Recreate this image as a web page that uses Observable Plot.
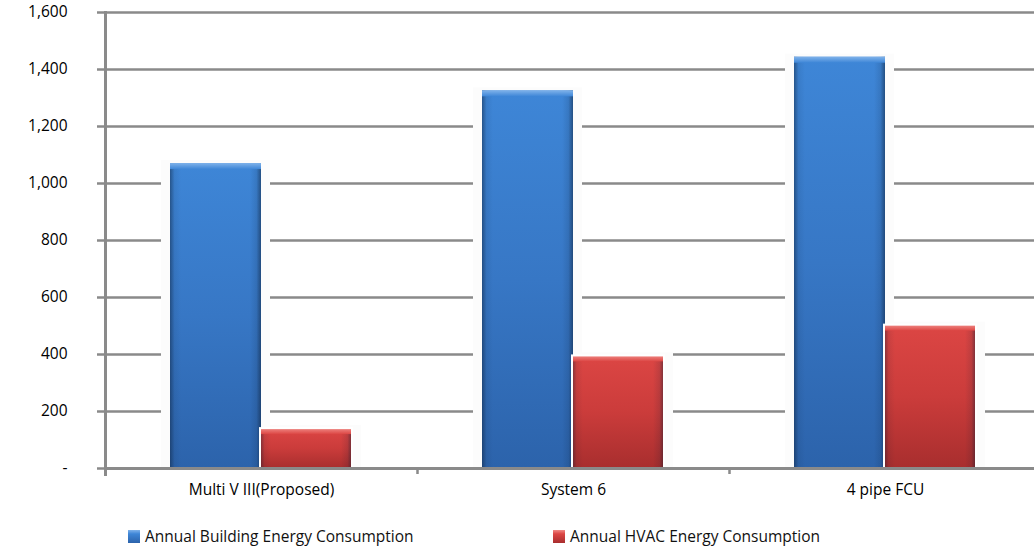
<!DOCTYPE html>
<html>
<head>
<meta charset="utf-8">
<script src="https://cdn.jsdelivr.net/npm/d3@7"></script>
<script src="https://cdn.jsdelivr.net/npm/@observablehq/plot@0.6"></script>
<style>
  html, body { margin: 0; padding: 0; background: #fff; }
  body { width: 1034px; height: 550px; overflow: hidden; font-family: "Open Sans", sans-serif; }
  #chart { position: relative; }
  #legend { position: relative; height: 40px; font-size: 15.5px; color: #111; }
  .item { position: absolute; top: 15px; display: flex; align-items: center; white-space: nowrap; }
  .swatch { width: 12px; height: 13px; margin-right: 5px; box-sizing: border-box; }
</style>
</head>
<body>
<div id="chart"></div>
<div id="legend"></div>
<script>
// Annual energy consumption by system option
const categories = ["Multi V III(Proposed)", "System 6", "4 pipe FCU"];
const seriesNames = ["Annual Building Energy Consumption", "Annual HVAC Energy Consumption"];
const buildingEnergy = [1070, 1325, 1443];
const hvacEnergy = [140, 395, 503];
const yTicks = [0, 200, 400, 600, 800, 1000, 1200, 1400, 1600];

const building = categories.map((c, i) => ({category: c, series: seriesNames[0], value: buildingEnergy[i]}));
const hvac = categories.map((c, i) => ({category: c, series: seriesNames[1], value: hvacEnergy[i]}));

const width = 1034, height = 510;
const xRange = [105, 1041];
const step = (xRange[1] - xRange[0]) / categories.length;
const pad = 65, barW = 91, halo = 9;

// inset pairs placing the two bars side by side inside each category band
const blueInset = {insetLeft: pad, insetRight: step - pad - barW};
const redInset = {insetLeft: pad + barW - 1, insetRight: pad};

const grey = "#8a8a8a";

const chart = Plot.plot({
  width, height,
  marginLeft: 105, marginRight: 0, marginTop: 12, marginBottom: 42,
  style: {fontFamily: "Open Sans, sans-serif", fontSize: "15.5px", color: "#000", background: "#fff"},
  x: {domain: categories, range: xRange, padding: 0},
  y: {domain: [0, 1600]},
  marks: [
    Plot.gridY(yTicks.filter(d => d > 0), {stroke: grey, strokeWidth: 2.6, strokeOpacity: 1}),
    // white halo behind each bar that interrupts the grid lines
    Plot.barY(building, {x: "category", y: "value", fill: "#fcfcfc",
      insetLeft: pad - halo, insetRight: step - pad - barW - halo, insetTop: -3}),
    Plot.barY(hvac, {x: "category", y: "value", fill: "#fcfcfc",
      insetLeft: pad + barW - halo, insetRight: pad - halo, insetTop: -3}),
    // building bars
    Plot.barY(building, {x: "category", y: "value", fill: "url(#blueFill)", ...blueInset}),
    Plot.barY(building, {x: "category", y: "value", fill: "url(#edgeShade)", ...blueInset}),
    Plot.barY(building, {x: "category", y1: "value", y2: "value", insetBottom: -6, fill: "url(#blueBevel)", ...blueInset}),
    // HVAC bars with a thin white outline
    Plot.barY(hvac, {x: "category", y: "value", fill: "url(#redFill)", ...redInset}),
    Plot.barY(hvac, {x: "category", y: "value", fill: "url(#edgeShade)", ...redInset}),
    Plot.barY(hvac, {x: "category", y1: "value", y2: "value", insetBottom: -6, fill: "url(#redBevel)", ...redInset}),
    Plot.barY(hvac, {x: "category", y: "value", fill: "none", stroke: "#fff", strokeWidth: 2, ...redInset}),
    // axes
    Plot.ruleY([0], {stroke: grey, strokeWidth: 3}),
    Plot.frame({anchor: "left", stroke: grey, strokeWidth: 3, insetBottom: -6}),
    Plot.ruleX(categories.slice(1), {x: d => d, dx: -step / 2, y1: 0, y2: 0, insetBottom: -6, stroke: grey, strokeWidth: 2.5}),
    Plot.axisY({ticks: yTicks, tickSize: 8, tickPadding: 30, stroke: grey, strokeWidth: 2.5, label: null,
      tickFormat: d => d === 0 ? "-" : d3.format(",")(d), fontSize: 15.5}),
    Plot.axisX({tickSize: 0, tickPadding: 15, fontSize: 15.5, label: null})
  ]
});

// gradients used by the bars
const defs = d3.select(chart).insert("defs", ":first-child");
function vGrad(id, stops) {
  const g = defs.append("linearGradient").attr("id", id).attr("x1", 0).attr("y1", 0).attr("x2", 0).attr("y2", 1);
  stops.forEach(([o, c, a]) => g.append("stop").attr("offset", o).attr("stop-color", c).attr("stop-opacity", a ?? 1));
}
vGrad("blueFill", [[0, "#3e86d7"], [0.5, "#3777c5"], [1, "#2c63ab"]]);
vGrad("redFill", [[0, "#dc4644"], [0.5, "#cb3c3b"], [1, "#a82e2e"]]);
vGrad("blueBevel", [[0, "#7fb2ea"], [1, "#3e86d7"]]);
vGrad("redBevel", [[0, "#f08a86"], [1, "#dc4644"]]);
const e = defs.append("linearGradient").attr("id", "edgeShade").attr("x1", 0).attr("y1", 0).attr("x2", 1).attr("y2", 0);
[[0, 0.45], [0.05, 0.08], [0.12, 0], [0.88, 0], [0.95, 0.12], [1, 0.5]].forEach(([o, a]) =>
  e.append("stop").attr("offset", o).attr("stop-color", "#0a1a30").attr("stop-opacity", a));

document.getElementById("chart").appendChild(chart);

// legend below the chart
const legend = d3.select("#legend");
const swatchStyles = [
  "linear-gradient(#7fb2ea, #3e86d7 30%, #2c63ab)",
  "linear-gradient(#f08a86, #dc4644 30%, #a82e2e)"
];
const legendLeft = [128, 553];
seriesNames.forEach((name, i) => {
  const item = legend.append("div").attr("class", "item").style("left", legendLeft[i] + "px");
  item.append("div").attr("class", "swatch").style("background", swatchStyles[i]);
  item.append("span").text(name);
});
</script>
</body>
</html>
